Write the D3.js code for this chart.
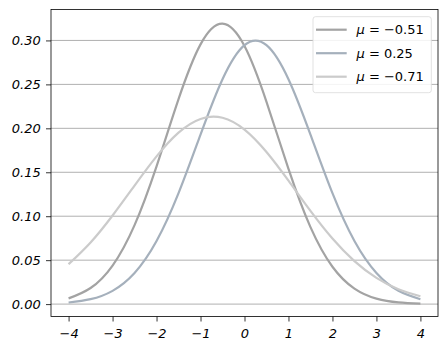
<!DOCTYPE html>
<html>
<head>
<meta charset="utf-8">
<script src="https://cdn.jsdelivr.net/npm/d3@7"></script>
<style>
  body { margin: 0; background: #fff; }
  svg text { font-family: "DejaVu Sans", sans-serif; }
</style>
</head>
<body>
<svg width="448" height="351"></svg>
<script>
const WIDTH = 448;
const HEIGHT = 351;

// values
const xs = [-4, -3.5, -3, -2.5, -2, -1.5, -1, -0.5, 0, 0.5, 1, 1.5, 2, 2.5, 3, 3.5, 4];
const curveA = [0.0065, 0.0183, 0.0439, 0.0899, 0.1568, 0.2332, 0.2955, 0.3191, 0.2936, 0.2302,
  0.1538, 0.0876, 0.0425, 0.0176, 0.0062, 0.0019, 0.0005];
const curveB = [0.0018, 0.0056, 0.0151, 0.0354, 0.0717, 0.1262, 0.1929, 0.2559, 0.2947, 0.2947,
  0.2559, 0.1929, 0.1262, 0.0717, 0.0354, 0.0151, 0.0056];
const curveC = [0.0454, 0.0701, 0.1008, 0.1349, 0.1681, 0.1951, 0.2107, 0.2120, 0.1985, 0.1730,
  0.1404, 0.1061, 0.0746, 0.0489, 0.0298, 0.0169, 0.0089];
const labels = ["−0.51", "0.25", "−0.71"];
const colors = ["#a3a3a3", "#a5b0bc", "#cbcbcb"];
const xTicks = [-4, -3, -2, -1, 0, 1, 2, 3, 4];
const yTicks = [0, 0.05, 0.10, 0.15, 0.20, 0.25, 0.30];

const series = [curveA, curveB, curveC];

const margin = { left: 51, top: 9.5, right: 10, bottom: 34.5 };
const plotW = WIDTH - margin.left - margin.right;
const plotH = HEIGHT - margin.top - margin.bottom;

const x = d3.scaleLinear().domain([-4.4, 4.4]).range([0, plotW]);
const y = d3.scaleLinear().domain([-0.0141, 0.3352]).range([plotH, 0]);

const svg = d3.select("svg");
const g = svg.append("g").attr("transform", `translate(${margin.left},${margin.top})`);

// grid
g.append("g")
  .selectAll("line")
  .data(yTicks)
  .enter()
  .append("line")
  .attr("x1", 0)
  .attr("x2", plotW)
  .attr("y1", (d) => y(d))
  .attr("y2", (d) => y(d))
  .attr("stroke", "#b0b0b0")
  .attr("stroke-width", 1);

const line = d3.line()
  .x((d, i) => x(xs[i]))
  .y((d) => y(d))
  .curve(d3.curveNatural);

g.append("g")
  .selectAll("path")
  .data(series)
  .enter()
  .append("path")
  .attr("d", (d) => line(d))
  .attr("fill", "none")
  .attr("stroke", (d, i) => colors[i])
  .attr("stroke-width", 2.2);

// axes
const xAxis = g.append("g")
  .attr("transform", `translate(0,${plotH})`)
  .call(d3.axisBottom(x).tickValues(xTicks).tickSize(5).tickPadding(7.3)
    .tickFormat((d) => d3.format("")(d).replace("-", "−")));
const yAxis = g.append("g")
  .call(d3.axisLeft(y).tickValues(yTicks).tickSize(5).tickPadding(5.3)
    .tickFormat(d3.format(".2f")));

[xAxis, yAxis].forEach((a) => {
  a.select(".domain").remove();
  a.selectAll("line").attr("stroke", "#000").attr("stroke-width", 0.8);
  a.selectAll("text")
    .attr("fill", "#000")
    .style("font-size", "13px")
    .style("font-style", "italic")
    .style("font-family", "DejaVu Sans");
});

g.append("rect")
  .attr("width", plotW)
  .attr("height", plotH)
  .attr("fill", "none")
  .attr("stroke", "#000")
  .attr("stroke-width", 0.8);

// legend
const legend = g.append("g").attr("transform", `translate(${313 - margin.left},${16.7 - margin.top})`);
legend.append("rect")
  .attr("width", 118.3)
  .attr("height", 76)
  .attr("rx", 2.5)
  .attr("fill", "#fff")
  .attr("fill-opacity", 0.85)
  .attr("stroke", "#d9d9d9")
  .attr("stroke-width", 0.8);

const rows = legend.selectAll(".row")
  .data(labels)
  .enter()
  .append("g")
  .attr("transform", (d, i) => `translate(0,${13 + i * 23.5})`);

rows.append("line")
  .attr("x1", 3)
  .attr("x2", 33.7)
  .attr("stroke", (d, i) => colors[i])
  .attr("stroke-width", 2.2);

const txt = rows.append("text")
  .attr("x", 43.5)
  .attr("dy", "0.36em")
  .style("font-size", "13px")
  .attr("fill", "#000");
txt.append("tspan").style("font-style", "italic").text("μ");
txt.append("tspan").text((d) => " = " + d);
</script>
</body>
</html>
